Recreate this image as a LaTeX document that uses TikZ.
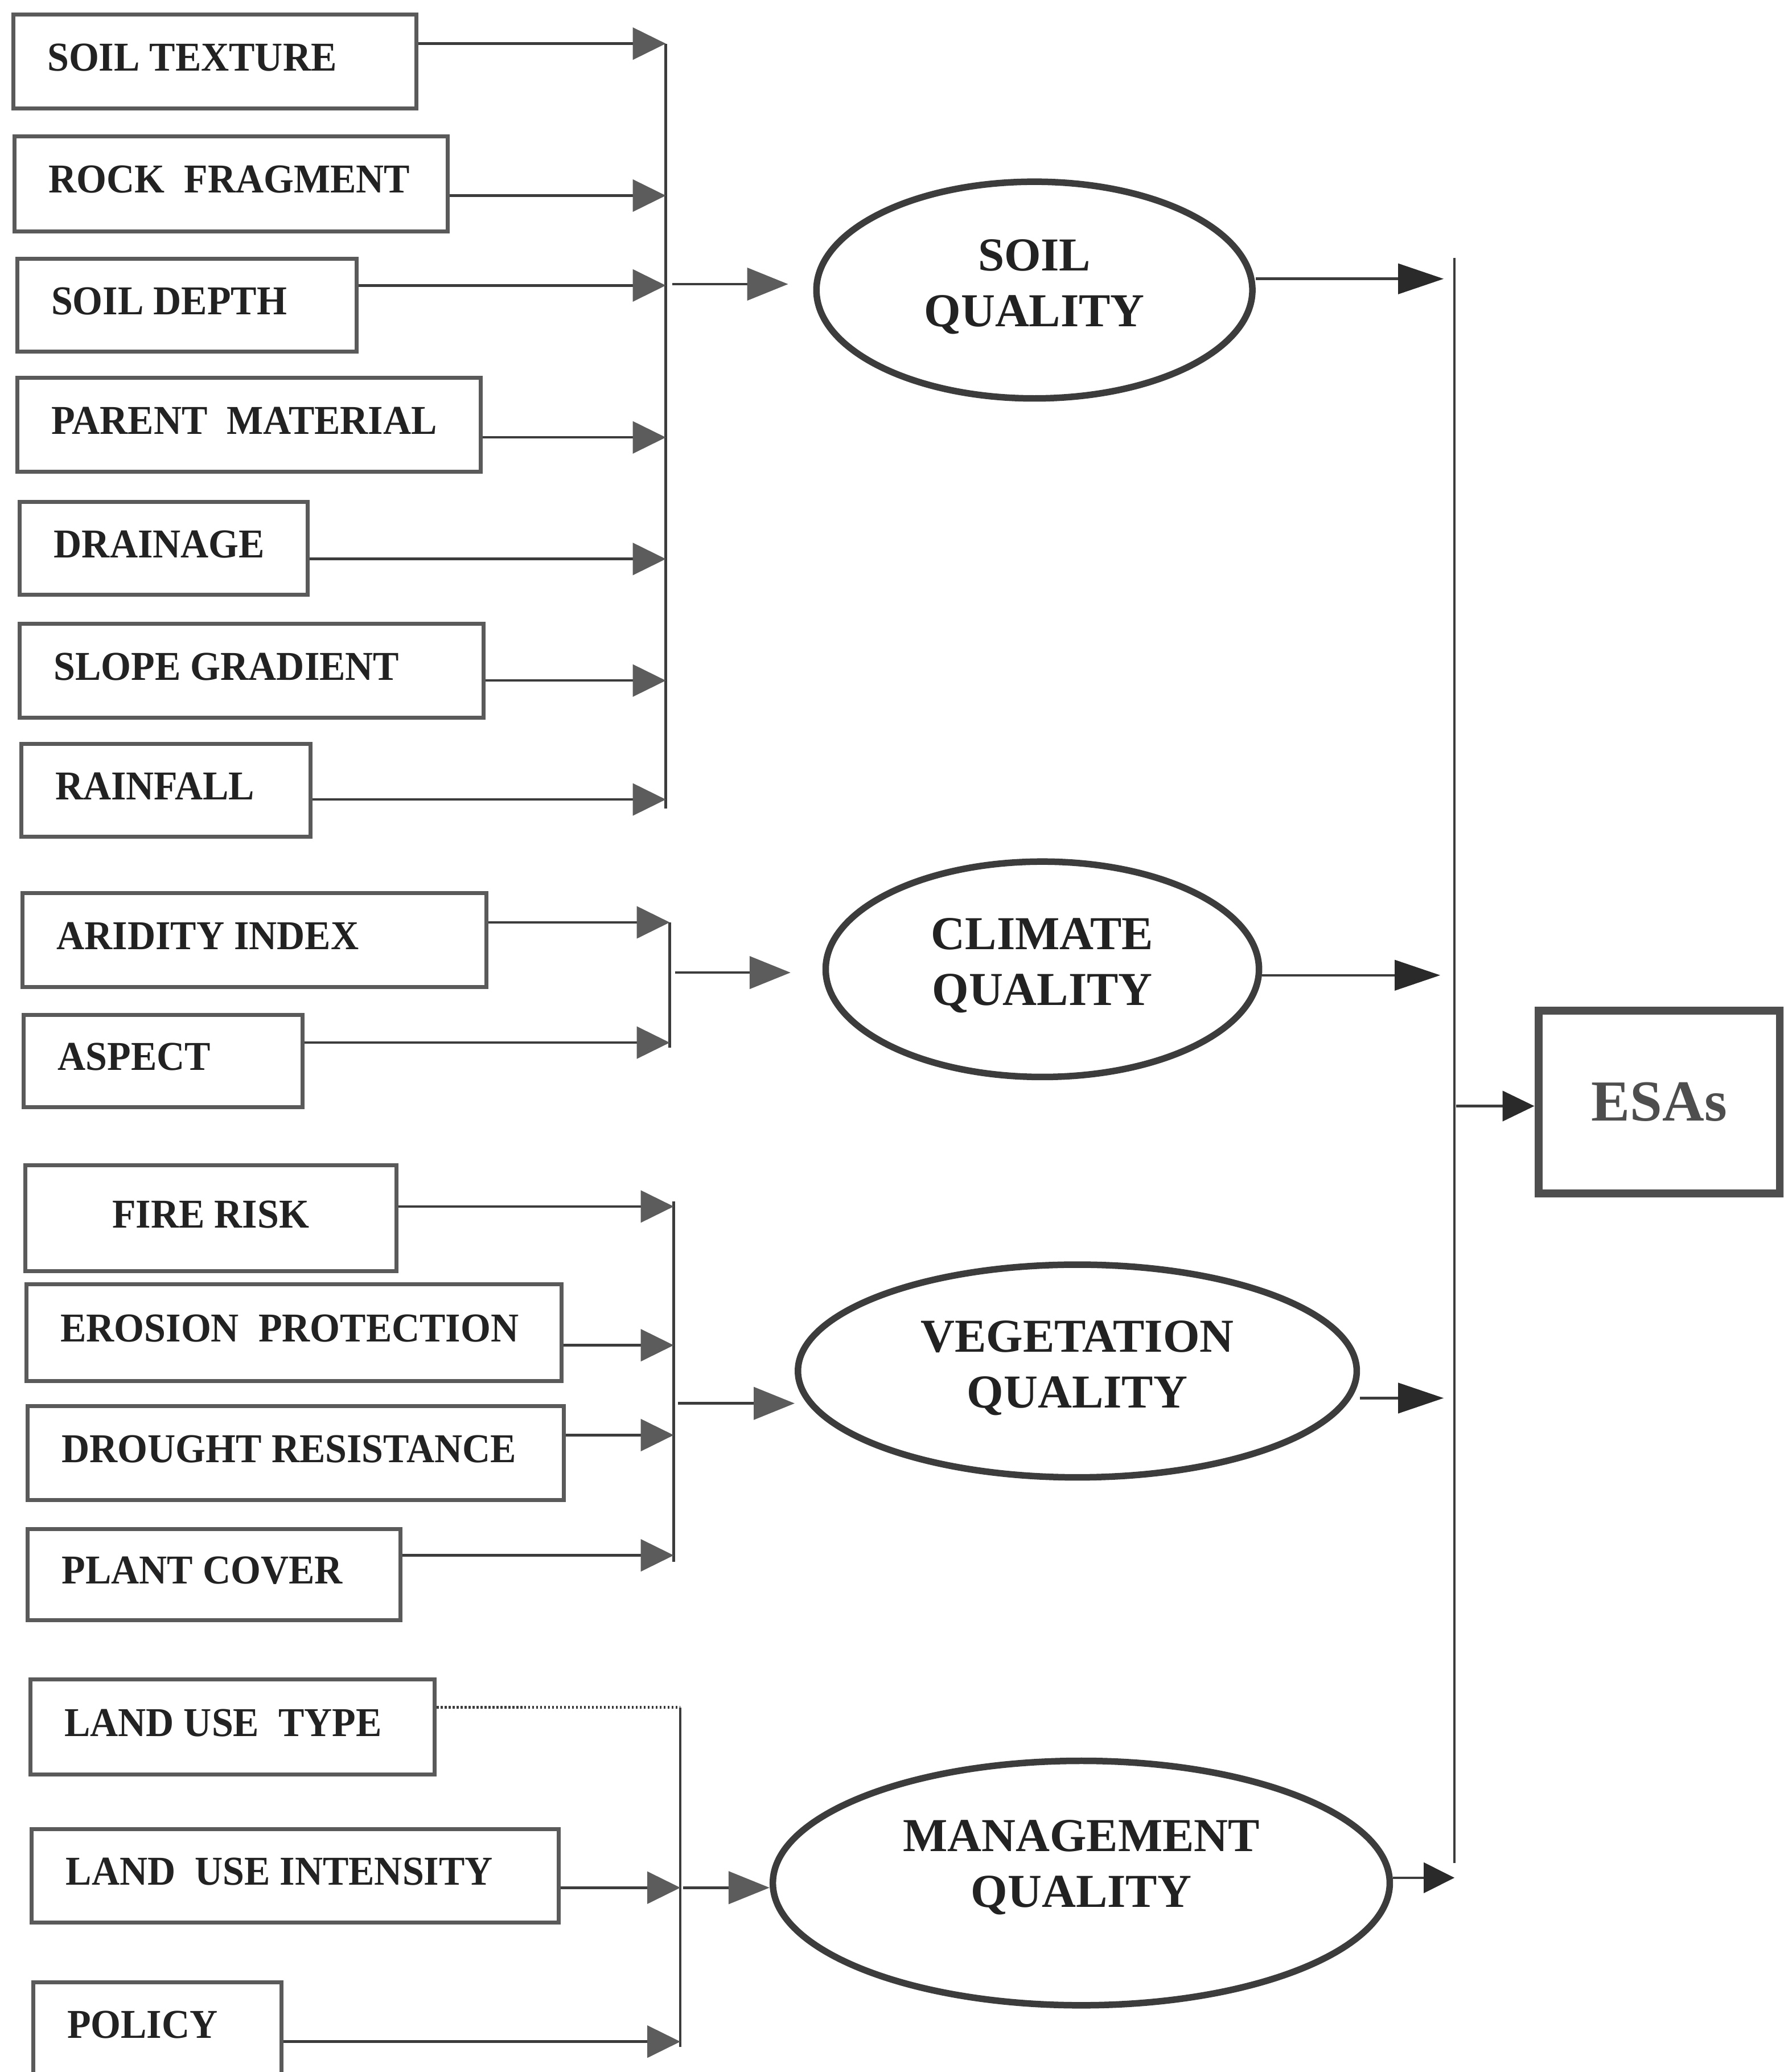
\documentclass[tikz,border=0pt]{standalone}
\usepackage{fontspec}
\setmainfont{Liberation Serif}
\newfontfamily\bxf{Liberation Serif}[FakeStretch=0.945]
\usetikzlibrary{arrows.meta,shapes.geometric}
\definecolor{linec}{HTML}{3C3C3C}
\definecolor{boxc}{HTML}{5A5A5A}
\definecolor{headl}{HTML}{5C5C5C}
\definecolor{headr}{HTML}{2A2A2A}
\definecolor{txtc}{HTML}{222222}
\definecolor{esac}{HTML}{4E4E4E}
\newcommand\bx[7][l]{%
  \pgfmathsetmacro\bw{(#5-#3)*0.23215}%
  \pgfmathsetmacro\bh{(#6-#4)*0.23215}%
  \pgfmathsetmacro\tw{\bw-12}%
  \node[box,minimum width=\bw pt,minimum height=\bh pt] (#2) at ({(#3+#5)/2},{(#4+#6)/2}) {\makebox[\tw pt][#1]{#7}};}
\begin{document}
\begin{tikzpicture}[x=0.23215pt, y=-0.23215pt,
  box/.style={draw=boxc, line width=0.7pt, rectangle, inner xsep=6pt, inner ysep=0pt,
    text=txtc, font=\bxf\fontsize{7.2pt}{8pt}\selectfont\bfseries, text depth=1.5pt},
  qual/.style={draw=linec, line width=1.15pt, ellipse, inner sep=0pt, align=center,
    text=txtc, font=\fontsize{8.3pt}{9.75pt}\selectfont\bfseries},
  conn/.style={draw=linec, line width=0.45pt},
  inarr/.style={conn, -{Triangle[length=5.8pt,width=5.6pt,color=headl]}},
  busarr/.style={conn, -{Triangle[length=7.2pt,width=5.7pt,color=headl]}},
  outarr/.style={conn, -{Triangle[length=8pt,width=5.3pt,color=headr]}},
  shortarr/.style={conn, -{Triangle[length=5.4pt,width=5.3pt,color=headr]}},
  dotline/.style={draw=linec, line width=0.45pt, dash pattern=on 0.35pt off 0.35pt}
]
\useasboundingbox (0,0) rectangle (1350,1568);
\clip (0,0) rectangle (1350,1568);
\fill[white] (0,0) rectangle (1350,1568);

% ---------- input boxes ----------
\bx{st}{10}{11}{315}{82}{SOIL TEXTURE}
\bx{rf}{11}{103}{339}{175}{ROCK\ \ FRAGMENT}
\bx{sd}{13}{196}{270}{266}{SOIL DEPTH}
\bx{pm}{13}{286}{364}{357}{PARENT\ \ MATERIAL}
\bx{dr}{15}{380}{233}{450}{DRAINAGE}
\bx{sg}{15}{472}{366}{543}{SLOPE GRADIENT}
\bx{rn}{16}{563}{235}{633}{RAINFALL}
\bx{ai}{17}{676}{368}{747}{ARIDITY INDEX}
\bx{as}{18}{768}{229}{838}{ASPECT}
\bx[c]{fr}{19}{882}{300}{962}{FIRE RISK}
\bx{ep}{20}{972}{425}{1045}{EROSION\ \ PROTECTION}
\bx{dg}{21}{1064}{427}{1135}{DROUGHT RESISTANCE}
\bx{pc}{21}{1157}{303}{1226}{PLANT COVER}
\bx{lt}{23}{1271}{329}{1343}{LAND USE\ \ TYPE}
\bx{li}{24}{1384}{423}{1455}{LAND\ \ USE INTENSITY}
\bx{po}{25}{1500}{213}{1571}{POLICY}

% ---------- quality ellipses ----------
\node[qual, minimum width=330*0.23215pt, minimum height=164*0.23215pt] (sq) at (783,219.5) {SOIL\\QUALITY\rule[-2.5pt]{0pt}{2.5pt}};
\node[qual, minimum width=328*0.23215pt, minimum height=163*0.23215pt] (cq) at (789,733.5) {CLIMATE\\QUALITY\rule[-2.7pt]{0pt}{2.7pt}};
\node[qual, minimum width=423*0.23215pt, minimum height=161*0.23215pt] (vq) at (815.5,1037.5) {VEGETATION\\QUALITY\rule[-2.4pt]{0pt}{2.4pt}};
\node[qual, minimum width=467*0.23215pt, minimum height=185*0.23215pt] (mq) at (818.5,1425) {MANAGEMENT\\QUALITY\rule[-6.8pt]{0pt}{6.8pt}};

% ---------- ESAs ----------
\node[draw=esac, line width=1.4pt, rectangle, inner sep=0pt, minimum width=183*0.23215pt,
  minimum height=138*0.23215pt, text=esac, font=\fontsize{10.2pt}{12pt}\selectfont\bfseries]
  (esa) at (1256,834) {ESAs};

% ---------- soil bus ----------
\coordinate (s1) at (504,33);
\coordinate (s2) at (504,148);
\coordinate (s3) at (504,216);
\coordinate (s4) at (504,331);
\coordinate (s5) at (504,423);
\coordinate (s6) at (504,515);
\coordinate (s7) at (504,605);
\coordinate (sb) at (504,612);
\coordinate (so) at (509,215);
\draw[conn] (s1) -- (sb);
\draw[inarr] (st.east |- s1) -- (s1);
\draw[inarr] (rf.east |- s2) -- (s2);
\draw[inarr] (sd.east |- s3) -- (s3);
\draw[inarr] (pm.east |- s4) -- (s4);
\draw[inarr] (dr.east |- s5) -- (s5);
\draw[inarr] (sg.east |- s6) -- (s6);
\draw[inarr] (rn.east |- s7) -- (s7);
\draw[busarr, shorten >=4.4pt] (so) -- (so -| sq.west);

% ---------- climate bus ----------
\coordinate (c1) at (507,698);
\coordinate (c2) at (507,789);
\coordinate (cb) at (507,793);
\coordinate (co) at (511,736);
\draw[conn] (c1) -- (cb);
\draw[inarr] (ai.east |- c1) -- (c1);
\draw[inarr] (as.east |- c2) -- (c2);
\draw[busarr, shorten >=5.6pt] (co) -- (co -| cq.west);

% ---------- vegetation bus ----------
\coordinate (v1) at (510,913);
\coordinate (v2) at (510,1018);
\coordinate (v3) at (510,1086);
\coordinate (v4) at (510,1177);
\coordinate (vt) at (510,909);
\coordinate (vb) at (510,1182);
\coordinate (vo) at (513,1062);
\draw[conn] (vt) -- (vb);
\draw[inarr] (fr.east |- v1) -- (v1);
\draw[inarr] (ep.east |- v2) -- (v2);
\draw[inarr] (dg.east |- v3) -- (v3);
\draw[inarr] (pc.east |- v4) -- (v4);
\draw[busarr] (vo) -- (vo -| vq.west);

% ---------- management bus ----------
\coordinate (g1) at (515,1292);
\coordinate (g2) at (515,1428.5);
\coordinate (g3) at (515,1545);
\coordinate (gb) at (515,1549);
\coordinate (go) at (517,1428.5);
\draw[conn] (g1) -- (gb);
\draw[dotline] (lt.east |- g1) -- (g1);
\draw[inarr] (li.east |- g2) -- (g2);
\draw[inarr] (po.east |- g3) -- (g3);
\draw[busarr] (go) -- (go -| mq.west);

% ---------- main collector ----------
\coordinate (mt) at (1101,195);
\coordinate (mb) at (1101,1410);
\coordinate (m1) at (1101,211);
\coordinate (m2) at (1101,738);
\coordinate (m3) at (1101,1058);
\coordinate (m4) at (1101,1421);
\coordinate (me) at (1102,837);
\draw[draw=linec, line width=0.4pt] (mt) -- (mb);
\draw[outarr, shorten >=1.9pt] (m1 -| sq.east) -- (m1);
\draw[outarr, shorten >=2.5pt] (m2 -| cq.east) -- (m2);
\draw[outarr, shorten >=1.9pt] (m3 -| vq.east) -- (m3);
\draw[shortarr] (m4 -| mq.east) -- (m4);
\draw[conn, -{Triangle[length=5.6pt,width=5.3pt,color=headr]}] (me) -- (me -| esa.west);
\end{tikzpicture}
\end{document}
